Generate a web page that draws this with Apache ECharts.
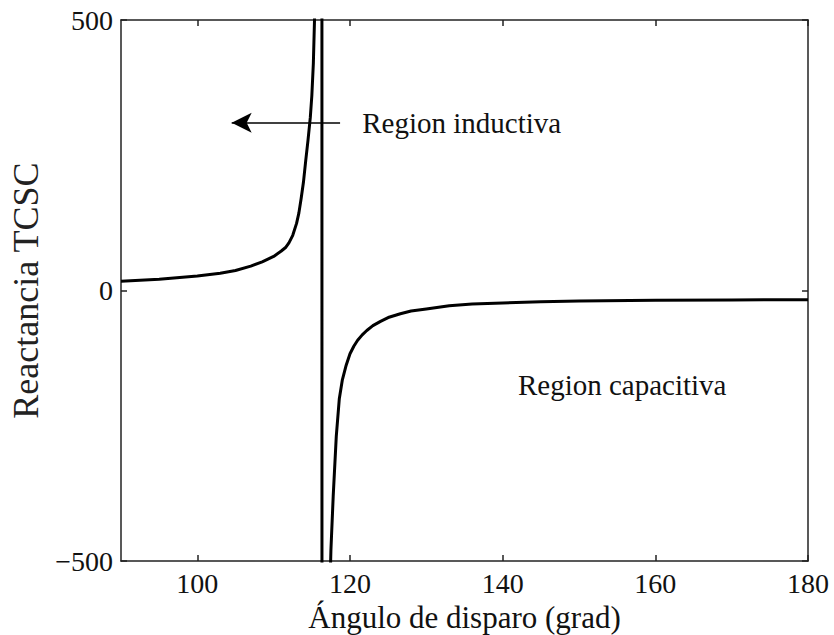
<!DOCTYPE html>
<html>
<head>
<meta charset="utf-8">
<script src="https://cdn.jsdelivr.net/npm/echarts@6/dist/echarts.min.js"></script>
<style>html,body{margin:0;padding:0;background:#fff}#c{width:834px;height:635px}</style>
</head>
<body>
<div id="c"></div>
<script>
// Firing angle (deg)
const angle = [90, 95, 100, 103, 105, 107, 108.5, 110, 111, 111.6, 112, 112.5, 113, 113.3, 113.6, 113.9, 114.2, 114.5, 114.8, 115.0, 115.2, 115.35, 115.5, 115.8, 116.1, 116.3,
  116.35, 116.9, 117.2, 117.5, 117.8, 118.2, 118.6, 119.0, 119.5, 120, 120.5, 121, 121.6, 122.2, 123, 124, 125, 126.6, 128, 130, 133, 136, 140, 145, 150, 160, 170, 180];
// TCSC reactance
const reactance = [17, 21, 27, 32, 37, 45, 53, 63, 73, 80, 88, 102, 124, 143, 170, 200, 240, 278, 320, 360, 420, 500, 600, 900, 2000, 5000,
  -5000, -1000, -650, -480, -380, -270, -200, -165, -138, -117, -103, -92, -82, -74, -65, -57, -50, -43, -38, -34, -28, -25, -23, -21, -19.5, -18, -17.5, -17];
const xTicks = [100, 120, 140, 160, 180];
const yTicks = [-500, 0, 500];
const arrowFrom = [118.7, 310];
const arrowTo = [104.5, 310];
const labelInductive = {text: 'Region inductiva', at: [121.6, 310]};
const labelCapacitive = {text: 'Region capacitiva', at: [142.0, -174]};

const font = 'Liberation Serif';
const ink = '#111';
const chart = echarts.init(document.getElementById('c'), null, {renderer: 'svg'});
const pts = angle.map((a, i) => [a, reactance[i]]);
const axisCommon = {
  axisLine: {show: true, onZero: false, lineStyle: {color: '#222', width: 1.5}},
  splitLine: {show: false}
};
chart.setOption({
  animation: false,
  backgroundColor: '#fff',
  grid: {left: 121, right: 26, top: 20, bottom: 74, show: false, containLabel: false, outerBoundsMode: 'none'},
  xAxis: [
    Object.assign({}, axisCommon, {
      type: 'value', min: 90, max: 180, position: 'bottom',
      name: 'Ángulo de disparo (grad)', nameLocation: 'middle', nameGap: 34,
      nameTextStyle: {fontFamily: font, fontSize: 31, color: ink},
      axisTick: {show: true, inside: true, length: 6, customValues: xTicks, lineStyle: {color: '#222', width: 1.5}},
      axisLabel: {show: true, customValues: xTicks, fontFamily: font, fontSize: 28, color: ink, margin: 8}
    }),
    Object.assign({}, axisCommon, {
      type: 'value', min: 90, max: 180, position: 'top',
      axisTick: {show: true, inside: true, length: 6, customValues: xTicks, lineStyle: {color: '#222', width: 1.5}},
      axisLabel: {show: false}
    })
  ],
  yAxis: [
    Object.assign({}, axisCommon, {
      type: 'value', min: -500, max: 500, interval: 500, position: 'left',
      name: 'Reactancia TCSC', nameLocation: 'middle', nameGap: 74,
      nameTextStyle: {fontFamily: font, fontSize: 36, color: '#222'},
      axisTick: {show: true, inside: true, length: 6, lineStyle: {color: '#222', width: 1.5}},
      axisLabel: {show: true, fontFamily: font, fontSize: 28, color: ink, margin: 8,
        formatter: v => v < 0 ? '\u2212' + (-v) : String(v)}
    }),
    Object.assign({}, axisCommon, {
      type: 'value', min: -500, max: 500, interval: 500, position: 'right',
      axisTick: {show: true, inside: true, length: 6, lineStyle: {color: '#222', width: 1.5}},
      axisLabel: {show: false}
    })
  ],
  series: [{
    type: 'line',
    data: pts,
    showSymbol: false,
    clip: true,
    lineStyle: {color: '#000', width: 3, join: 'round'},
    markLine: {
      silent: true,
      symbol: ['none', 'arrow'],
      symbolSize: [15, 20],
      lineStyle: {color: '#000', width: 1.5, type: 'solid'},
      label: {show: false},
      data: [[{coord: arrowFrom}, {coord: arrowTo}]]
    },
    markPoint: {
      silent: true,
      symbol: 'circle',
      symbolSize: 0,
      label: {show: true, position: 'right', distance: 0, fontFamily: font, fontSize: 29, color: ink,
        formatter: p => p.name},
      data: [
        {name: labelInductive.text, coord: labelInductive.at},
        {name: labelCapacitive.text, coord: labelCapacitive.at}
      ]
    }
  }]
});
</script>
</body>
</html>
